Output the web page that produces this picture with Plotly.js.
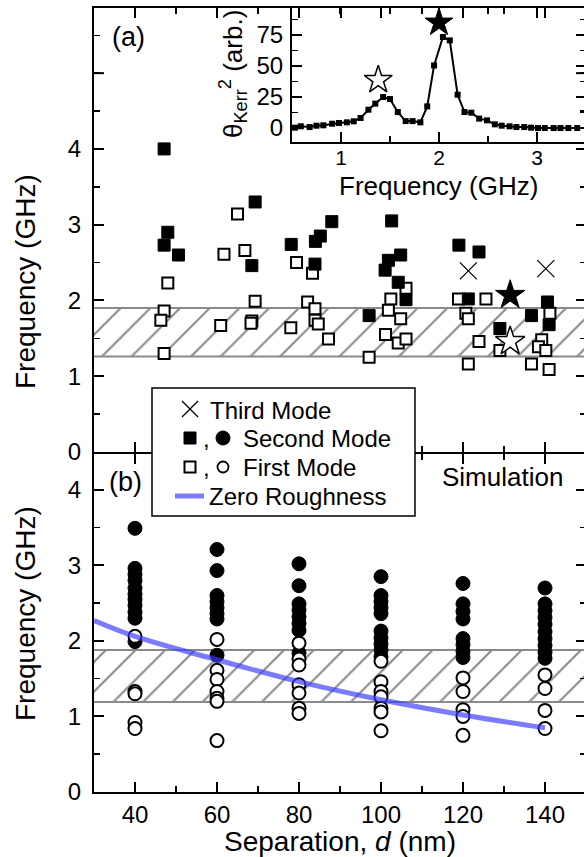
<!DOCTYPE html>
<html><head><meta charset="utf-8">
<script src="https://cdn.plot.ly/plotly-3.0.1.min.js"></script>
<style>html,body{margin:0;padding:0;overflow:hidden;background:#fff}#chart{width:590px;height:857px}</style>
</head><body><div id="chart"></div>
<script>
// ---------- Panel (a): experiment ----------
const secondA_d = [47.1,48.0,50.6,47.1,69.3,68.5,78.1,84.0,85.2,83.9,88.0,102.6,104.8,101.8,101.0,104.2,106.1,97.1,119.0,123.9,121.3,129.0,136.7,140.6,141.0];
const secondA_f = [4.00,2.90,2.60,2.73,3.30,2.46,2.74,2.78,2.85,2.48,3.04,3.05,2.60,2.53,2.40,2.24,2.01,1.80,2.73,2.64,2.02,1.63,1.80,1.98,1.68];
const firstA_d = [65.0,61.7,66.8,48.0,69.3,47.1,46.3,60.9,68.5,68.3,47.1,78.0,79.4,83.3,82.1,83.9,83.9,84.7,87.2,106.1,102.4,101.8,104.8,101.1,104.2,106.1,97.1,118.9,125.6,120.7,121.3,123.9,129.0,121.3,141.2,139.2,138.4,140.2,136.7,141.0];
const firstA_f = [3.14,2.61,2.66,2.23,1.99,1.86,1.74,1.67,1.73,1.70,1.30,1.64,2.50,2.36,1.98,1.89,1.74,1.69,1.49,2.16,2.02,1.87,1.76,1.55,1.44,1.49,1.25,2.02,2.02,1.83,1.76,1.46,1.34,1.16,1.83,1.48,1.39,1.34,1.16,1.09];
const thirdA_d = [121.3,140.2];
const thirdA_f = [2.39,2.42];
const starA_d = [131.5];
const starSecondA_f = [2.07];
const starFirstA_f = [1.46];
const bandA = [1.26,1.90];
const yTicksA = [0,1,2,3,4];

// ---------- Panel (b): simulation ----------
const simSep = [40,60,80,100,120,140];
const simSecond = [
  [3.49,2.96,2.88,2.80,2.70,2.62,2.55,2.47,2.38,2.30,1.99],
  [3.21,2.93,2.60,2.52,2.44,2.36,2.29,1.81],
  [3.02,2.73,2.49,2.41,2.32,2.23,2.14,1.84],
  [2.85,2.60,2.52,2.44,2.36,2.13,2.04,1.96,1.88,1.79],
  [2.76,2.49,2.39,2.29,2.03,1.95,1.86,1.78],
  [2.70,2.49,2.40,2.31,2.22,2.12,2.03,1.94,1.85,1.77]
];
const simFirst = [
  [2.06,1.33,1.30,0.92,0.84],
  [2.02,1.61,1.49,1.33,1.24,1.20,0.68],
  [1.97,1.76,1.68,1.42,1.31,1.11,1.04],
  [1.73,1.46,1.33,1.26,1.11,1.06,0.81],
  [1.51,1.33,1.09,1.00,0.75],
  [1.55,1.37,1.08,0.84]
];
const zeroD = [30,40,60,80,100,120,140];
const zeroF = [2.27,2.06,1.75,1.46,1.22,1.02,0.85];
const bandB = [1.19,1.88];

// ---------- Inset: Kerr spectrum ----------
const inFreq = [0.53,0.59,0.68,0.75,0.82,0.91,0.98,1.06,1.13,1.20,1.28,1.35,1.43,1.50,1.58,1.66,1.73,1.81,1.88,1.95,2.04,2.11,2.19,2.26,2.33,2.41,2.49,2.57,2.64,2.72,2.79,2.87,2.94,3.01,3.08,3.17,3.24,3.32,3.41];
const inKerr = [0.3,1.4,0.8,1.9,2.2,3.5,4.1,4.6,5.4,8.1,14.8,19.7,25.0,23.4,12.9,5.6,5.6,4.6,17.5,50.5,73.4,70.7,26.9,12.9,12.4,7.6,6.2,3.0,1.9,1.4,0.8,0.8,0.3,0,0,0,0,0,0];
const inStarFirst = [1.38, 38.7];
const inStarSecond = [2.0, 85.0];

// legend labels
const legendLabels = ['Third Mode','Second Mode','First Mode','Zero Roughness'];

const dRange = [30,150];
const simD = [], simSecF = [], simD1 = [], simFirF = [];
simSep.forEach((d,i)=>{ simSecond[i].forEach(v=>{simD.push(d);simSecF.push(v);}); simFirst[i].forEach(v=>{simD1.push(d);simFirF.push(v);}); });

const hatch = {shape:'/', fgcolor:'#8a8a8a', bgcolor:'#ffffff', size:21, solidity:0.1};
const bandLine = {color:'#8a8a8a', width:2};
const blue = 'rgba(60,60,255,0.68)';

const traces = [
  {x:dRange, y:[bandA[0],bandA[0]], xaxis:'x', yaxis:'y', mode:'lines', line:bandLine, hoverinfo:'skip'},
  {x:dRange, y:[bandA[1],bandA[1]], xaxis:'x', yaxis:'y', mode:'lines', line:bandLine, fill:'tonexty', fillpattern:hatch, fillcolor:'#ffffff', hoverinfo:'skip'},
  {x:dRange, y:[bandB[0],bandB[0]], xaxis:'x2', yaxis:'y2', mode:'lines', line:bandLine, hoverinfo:'skip'},
  {x:dRange, y:[bandB[1],bandB[1]], xaxis:'x2', yaxis:'y2', mode:'lines', line:bandLine, fill:'tonexty', fillpattern:hatch, fillcolor:'#ffffff', hoverinfo:'skip'},
  {x:thirdA_d, y:thirdA_f, xaxis:'x', yaxis:'y', mode:'markers', name:legendLabels[0],
   marker:{symbol:'x-thin-open', size:17, color:'black', line:{color:'black', width:1.2}}},
  {x:firstA_d, y:firstA_f, xaxis:'x', yaxis:'y', mode:'markers', name:legendLabels[2],
   marker:{symbol:'square', size:11, color:'white', line:{color:'black', width:2}}},
  {x:secondA_d, y:secondA_f, xaxis:'x', yaxis:'y', mode:'markers', name:legendLabels[1],
   marker:{symbol:'square', size:12, color:'black', line:{color:'black', width:1}}},
  {x:starA_d, y:starSecondA_f, xaxis:'x', yaxis:'y', mode:'markers',
   marker:{symbol:'star', size:22, color:'black', line:{color:'black', width:1}}},
  {x:starA_d, y:starFirstA_f, xaxis:'x', yaxis:'y', mode:'markers',
   marker:{symbol:'star', size:22, color:'white', line:{color:'black', width:1.5}}},
  {x:simD, y:simSecF, xaxis:'x2', yaxis:'y2', mode:'markers', name:'Simulation second mode',
   marker:{symbol:'circle', size:14, color:'black', line:{color:'black', width:1}}},
  {x:simD1, y:simFirF, xaxis:'x2', yaxis:'y2', mode:'markers', name:'Simulation first mode',
   marker:{symbol:'circle', size:13, color:'white', line:{color:'black', width:2}}},
  {x:zeroD, y:zeroF, xaxis:'x2', yaxis:'y2', mode:'lines', name:legendLabels[3],
   line:{color:blue, width:5, shape:'spline'}},
  {x:inFreq, y:inKerr, xaxis:'x3', yaxis:'y3', mode:'lines+markers',
   line:{color:'black', width:2}, marker:{symbol:'square', size:6, color:'black'}},
  {x:[inStarFirst[0]], y:[inStarFirst[1]], xaxis:'x3', yaxis:'y3', mode:'markers',
   marker:{symbol:'star', size:21, color:'white', line:{color:'black', width:1.5}}},
  {x:[inStarSecond[0]], y:[inStarSecond[1]], xaxis:'x3', yaxis:'y3', mode:'markers',
   marker:{symbol:'star', size:21, color:'black', line:{color:'black', width:1}}}
];

const axBase = {showline:true, linewidth:2, linecolor:'black', mirror:'ticks', ticks:'inside', ticklen:10, tickwidth:2, tickcolor:'black',
  showgrid:false, zeroline:false, fixedrange:true,
  minor:{ticks:'inside', ticklen:6, tickwidth:1.5, tickcolor:'black', showgrid:false}};
function ax(extra){ return Object.assign({}, JSON.parse(JSON.stringify(axBase)), extra); }
function mn(dt){ return Object.assign({}, axBase.minor, {dtick:dt}); }

// pixel -> paper helpers for the hand-built legend box
const L = 94, T = 8, PW = 492, PH = 784;
const px = X => (X - L) / PW;
const py = Y => (T + PH - Y) / PH;
const split = py(452);

const legendShapes = [
  {type:'rect', xref:'paper', yref:'paper', x0:px(152), x1:px(415), y0:py(516), y1:py(388), fillcolor:'white', line:{color:'black', width:1.5}, layer:'above'},
  {type:'line', xref:'paper', yref:'paper', x0:px(182), x1:px(198), y0:py(401), y1:py(417), line:{color:'black', width:1.2}, layer:'above'},
  {type:'line', xref:'paper', yref:'paper', x0:px(182), x1:px(198), y0:py(417), y1:py(401), line:{color:'black', width:1.2}, layer:'above'},
  {type:'rect', xref:'paper', yref:'paper', x0:px(184), x1:px(196), y0:py(444), y1:py(432), fillcolor:'black', line:{color:'black', width:1}, layer:'above'},
  {type:'circle', xref:'paper', yref:'paper', x0:px(216), x1:px(230), y0:py(445), y1:py(431), fillcolor:'black', line:{color:'black', width:1}, layer:'above'},
  {type:'rect', xref:'paper', yref:'paper', x0:px(184.5), x1:px(195.5), y0:py(472.5), y1:py(461.5), fillcolor:'white', line:{color:'black', width:2}, layer:'above'},
  {type:'circle', xref:'paper', yref:'paper', x0:px(217.5), x1:px(228.5), y0:py(472.5), y1:py(461.5), fillcolor:'white', line:{color:'black', width:1.8}, layer:'above'},
  {type:'line', xref:'paper', yref:'paper', x0:px(175), x1:px(204), y0:py(496), y1:py(496), line:{color:blue, width:5}, layer:'above'}
];
// long major tick at 5 GHz (unlabelled) on panel (a)
const tick5 = [
  {type:'line', xref:'x domain', yref:'y', x0:0, x1:10/PW, y0:5, y1:5, line:{color:'black', width:2}, layer:'above'},
  {type:'line', xref:'x domain', yref:'y', x0:1-10/PW, x1:1, y0:5, y1:5, line:{color:'black', width:2}, layer:'above'}
];

function note(text, X, Y, size, xa, extra){
  return Object.assign({text:text, xref:'paper', yref:'paper', x:px(X), y:py(Y), xanchor:xa||'center', yanchor:'middle',
    showarrow:false, font:{size:size}}, extra||{});
}

const layout = {
  width:590, height:857, margin:{l:L, r:4, t:T, b:65},
  paper_bgcolor:'white', plot_bgcolor:'rgba(0,0,0,0)',
  font:{family:'Liberation Sans, Arial, sans-serif', size:24, color:'black'},
  showlegend:false,
  xaxis: ax({domain:[0,1], anchor:'y', range:dRange, tick0:40, dtick:20, showticklabels:false, minor:mn(10)}),
  xaxis2: ax({domain:[0,1], anchor:'y2', range:dRange, tick0:40, dtick:20, minor:mn(10),
    title:{text:'Separation, <i>d</i> (nm)', font:{size:28}, standoff:1}}),
  yaxis: ax({domain:[split, 1], anchor:'x', range:[0,5.86], tickmode:'array', tickvals:yTicksA, minor:mn(0.5), ticklabelstandoff:6}),
  yaxis2: ax({domain:[0, split - 2/PH], anchor:'x2', range:[0,4.5-2/75.5], dtick:1, minor:mn(0.5), ticklabelstandoff:6}),
  xaxis3: ax({domain:[0.4024,1], anchor:'y3', range:[0.5,3.5], dtick:1, minor:mn(0.5), tickfont:{size:21}, ticklabelstandoff:-4}),
  yaxis3: ax({domain:[0.829,1], anchor:'x3', range:[-11.3,96.8], dtick:25, minor:mn(12.5), ticklabelstandoff:2}),
  shapes: legendShapes.concat(tick5),
  annotations:[
    note('Frequency (GHz)', 25, 282, 28, 'center', {textangle:-90}),
    note('Frequency (GHz)', 25, 614, 28, 'center', {textangle:-90}),
    note('θ<sub>Kerr</sub><sup>2</sup> (arb.)', 233, 74, 26, 'center', {textangle:-90}),
    note('Frequency (GHz)', 438, 186, 26),
    note('(a)', 128, 37, 27),
    note('(b)', 125, 482, 27),
    note('Simulation', 502, 477, 26),
    note(legendLabels[0], 208, 410, 24, 'left'),
    note(',', 206, 438, 24),
    note(legendLabels[1], 241, 438, 24, 'left'),
    note(',', 206, 467, 24),
    note(legendLabels[2], 241, 467, 24, 'left'),
    note(legendLabels[3], 207, 496, 24, 'left')
  ]
};
Plotly.newPlot('chart', traces, layout, {displayModeBar:false, staticPlot:true});
</script></body></html>
